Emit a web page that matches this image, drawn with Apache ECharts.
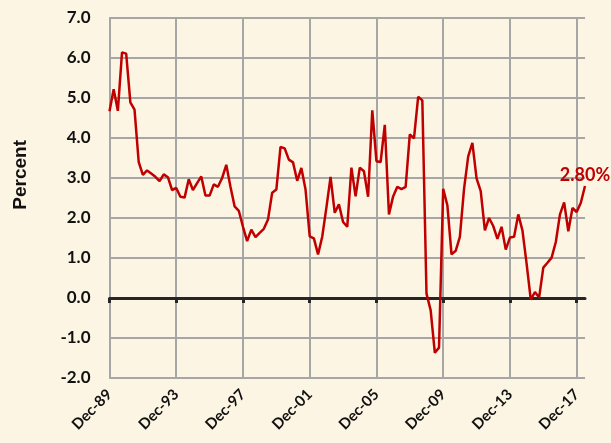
<!DOCTYPE html>
<html>
<head>
<meta charset="utf-8">
<script src="https://cdn.jsdelivr.net/npm/echarts@6/dist/echarts.min.js"></script>
<style>
html,body{margin:0;padding:0;background:#FDF5E4;}
#chart{width:611px;height:443px;}
</style>
</head>
<body>
<div id="chart"></div>
<script>
// Quarterly categories from Dec-89 to Jun-18
const monthNames = ['Mar', 'Jun', 'Sep', 'Dec'];
const categories = ['Dec-89'];
for (let y = 1990; y <= 2018; y++) {
  for (let q = 0; q < 4; q++) {
    if (y === 2018 && q > 1) break;
    categories.push(monthNames[q] + '-' + String(y % 100).padStart(2, '0'));
  }
}
const tickLabels = ['Dec-89', 'Dec-93', 'Dec-97', 'Dec-01', 'Dec-05', 'Dec-09', 'Dec-13', 'Dec-17'];
const values = [
  4.67, 5.22, 4.68, 6.14, 6.11, 4.89, 4.71, 3.40, 3.08, 3.19,
  3.11, 3.03, 2.92, 3.09, 3.02, 2.70, 2.75, 2.53, 2.51, 2.97,
  2.70, 2.87, 3.04, 2.56, 2.56, 2.84, 2.78, 3.00, 3.33, 2.78,
  2.29, 2.18, 1.78, 1.42, 1.71, 1.52, 1.63, 1.73, 1.96, 2.63,
  2.71, 3.78, 3.74, 3.46, 3.39, 2.93, 3.25, 2.71, 1.54, 1.49,
  1.09, 1.53, 2.26, 3.03, 2.13, 2.34, 1.90, 1.78, 3.26, 2.54,
  3.26, 3.17, 2.53, 4.69, 3.42, 3.40, 4.33, 2.09, 2.54, 2.78,
  2.72, 2.78, 4.09, 3.99, 5.03, 4.94, 0.11, -0.31, -1.37, -1.24,
  2.73, 2.32, 1.09, 1.18, 1.53, 2.73, 3.54, 3.88, 2.99, 2.67,
  1.69, 2.00, 1.80, 1.48, 1.78, 1.21, 1.51, 1.53, 2.09, 1.69,
  0.86, -0.04, 0.15, 0.01, 0.76, 0.88, 1.01, 1.40, 2.09, 2.39,
  1.67, 2.25, 2.15, 2.38, 2.80
];
const lastLabel = '2.80%';
const yLabelName = 'Percent';

const isTick = (idx, val) => tickLabels.indexOf(categories[idx]) >= 0;
const font = 'Lato, "Open Sans", sans-serif';
const lastIdx = values.length - 1;

const chart = echarts.init(document.getElementById('chart'), null, {renderer: 'canvas'});
chart.setOption({
  backgroundColor: '#FDF5E4',
  animation: false,
  grid: {left: 109.5, right: 26, top: 18, bottom: 65, containLabel: false},
  xAxis: [
    {
      type: 'category', data: categories, boundaryGap: false, position: 'bottom',
      axisLine: {show: true, onZero: true, lineStyle: {color: '#262626', width: 3}},
      axisTick: {show: true, interval: isTick, length: 5, lineStyle: {color: '#262626', width: 3}},
      axisLabel: {show: false},
      splitLine: {show: true, interval: isTick, lineStyle: {color: '#A6A6A6', width: 2}}
    },
    {
      type: 'category', data: categories, boundaryGap: false, position: 'bottom',
      axisLine: {show: false, onZero: false},
      axisTick: {show: false},
      splitLine: {show: false},
      axisLabel: {
        show: true, interval: isTick, rotate: 45, margin: 14,
        fontSize: 15, fontWeight: 'bold', color: '#111', fontFamily: font
      }
    }
  ],
  yAxis: {
    type: 'value', min: -2, max: 7, interval: 1,
    axisLine: {show: true, lineStyle: {color: '#A6A6A6', width: 2}},
    axisTick: {show: false},
    axisLabel: {
      margin: 19, fontSize: 17, fontWeight: 'bold', color: '#111', fontFamily: font,
      formatter: v => v.toFixed(1)
    },
    splitLine: {show: true, lineStyle: {color: '#A6A6A6', width: 2}}
  },
  graphic: [{
    type: 'text', left: 11, top: 140, rotation: Math.PI / 2,
    style: {text: yLabelName, fontSize: 19, fontWeight: 'bold', fill: '#111', font: 'bold 19px ' + font}
  }],
  series: [{
    type: 'line', xAxisIndex: 0, data: values, symbol: 'none', clip: false,
    lineStyle: {color: '#C00000', width: 2.5}, itemStyle: {color: '#C00000'}, z: 5,
    markPoint: {
      symbol: 'circle', symbolSize: 0, silent: true,
      data: [{coord: [lastIdx, values[lastIdx]], value: values[lastIdx]}],
      label: {
        show: true, position: 'top', distance: 2, formatter: lastLabel,
        color: '#C00000', fontWeight: 'bold', fontSize: 18, fontFamily: font
      }
    }
  }]
});
</script>
</body>
</html>
